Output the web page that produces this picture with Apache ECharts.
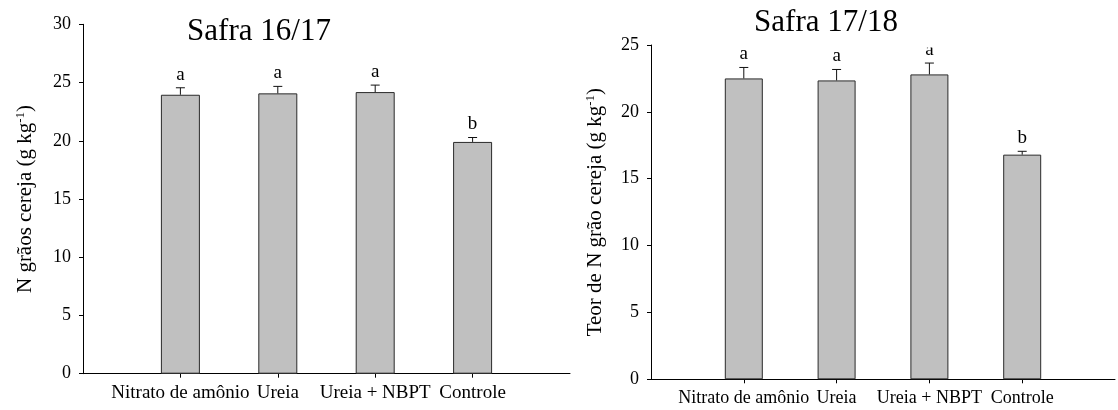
<!DOCTYPE html>
<html>
<head>
<meta charset="utf-8">
<script src="https://cdn.jsdelivr.net/npm/echarts@6/dist/echarts.min.js"></script>
<style>
html,body{margin:0;padding:0;background:#fff;}
#chart{width:1118px;height:410px;}
</style>
</head>
<body>
<div id="chart"></div>
<script>
const categories = ['Nitrato de amônio', 'Ureia', 'Ureia + NBPT', 'Controle'];
const safra1617 = [23.95, 24.07, 24.18, 19.9];
const err1617 = [0.6, 0.6, 0.6, 0.38];
const letters1617 = ['a', 'a', 'a', 'b'];
const safra1718 = [22.5, 22.35, 22.8, 16.8];
const err1718 = [0.82, 0.82, 0.85, 0.25];
const letters1718 = ['a', 'a', 'a', 'b'];
const yMax1617 = 30;
const yMax1718 = 25;
const yStep = 5;
const title1617 = 'Safra 16/17';
const title1718 = 'Safra 17/18';

const FONT = 'Liberation Serif';
const xCats = [''].concat(categories, ['']);

function xAxisDef(gridIndex, fs, margin) {
  return {
    type: 'category', gridIndex: gridIndex, data: xCats, boundaryGap: false,
    axisLine: { lineStyle: { color: '#000', width: 1 } },
    axisTick: { length: 4, lineStyle: { color: '#000' }, interval: function (i) { return i >= 1 && i <= categories.length; } },
    axisLabel: { interval: 0, hideOverlap: false, color: '#000', fontFamily: FONT, fontSize: fs, margin: margin },
    splitLine: { show: false }
  };
}
function yAxisDef(gridIndex, max, name, gap) {
  return {
    type: 'value', gridIndex: gridIndex, min: 0, max: max, interval: yStep,
    name: name, nameLocation: 'middle', nameGap: gap, nameRotate: 90,
    nameTextStyle: {
      rich: {
        n: { fontFamily: FONT, fontSize: 21, color: '#000', lineHeight: 23 },
        s: { fontFamily: FONT, fontSize: 13, color: '#000', verticalAlign: 'top', lineHeight: 23 }
      }
    },
    axisLine: { show: true, lineStyle: { color: '#000', width: 1 } },
    axisTick: { show: true, length: 4, lineStyle: { color: '#000' } },
    axisLabel: { color: '#000', fontFamily: FONT, fontSize: 18, margin: 12 },
    splitLine: { show: false }
  };
}
function barSeries(idx, vals, bw) {
  return {
    type: 'bar', xAxisIndex: idx, yAxisIndex: idx, barWidth: bw,
    data: vals.map(function (v, i) { return [i + 1, v]; }),
    itemStyle: { color: '#c0c0c0', borderColor: '#2a2a2a', borderWidth: 1 },
    z: 2
  };
}
function errSeries(idx, vals, errs, letters) {
  return {
    type: 'custom', xAxisIndex: idx, yAxisIndex: idx, clip: false, z: 3,
    data: vals.map(function (v, i) { return [i + 1, v, errs[i]]; }),
    renderItem: function (params, api) {
      const x = api.value(0), v = api.value(1), e = api.value(2);
      const p0 = api.coord([x, v]);
      const p1 = api.coord([x, v + e]);
      return {
        type: 'group',
        children: [
          { type: 'line', shape: { x1: p0[0], y1: p0[1], x2: p1[0], y2: p1[1] }, style: { stroke: '#111', lineWidth: 1 } },
          { type: 'line', shape: { x1: p1[0] - 4.5, y1: p1[1], x2: p1[0] + 4.5, y2: p1[1] }, style: { stroke: '#111', lineWidth: 1 } },
          { type: 'text', x: p1[0], y: p1[1] - 13, style: { text: letters[params.dataIndex], fill: '#000', font: '19px ' + FONT, align: 'center', verticalAlign: 'middle' } }
        ]
      };
    }
  };
}

const chart = echarts.init(document.getElementById('chart'), null, { renderer: 'canvas' });
chart.setOption({
  backgroundColor: '#fff',
  animation: false,
  grid: [
    { left: 83, top: 24.3, width: 487, height: 349.4 },
    { left: 651, top: 45, width: 477, height: 334.3 }
  ],
  xAxis: [xAxisDef(0, 19, 10), xAxisDef(1, 18, 10)],
  yAxis: [
    yAxisDef(0, yMax1617, '{n|N grãos cereja (g kg}{s|-1}{n|)}', 46),
    yAxisDef(1, yMax1718, '{n|Teor de N grão cereja (g kg}{s|-1}{n|)}', 44)
  ],
  series: [
    barSeries(0, safra1617, 39),
    errSeries(0, safra1617, err1617, letters1617),
    barSeries(1, safra1718, 38),
    errSeries(1, safra1718, err1718, letters1718)
  ],
  graphic: [
    { type: 'rect', z: 50, shape: { x: 880, y: 0, width: 100, height: 47.5 }, style: { fill: '#fff' } },
    { type: 'text', z: 51, x: 259, y: 32, style: { text: title1617, font: '31px ' + FONT, fill: '#000', align: 'center', verticalAlign: 'middle' } },
    { type: 'text', z: 51, x: 826, y: 23, style: { text: title1718, font: '31px ' + FONT, fill: '#000', align: 'center', verticalAlign: 'middle' } }
  ]
});
</script>
</body>
</html>
